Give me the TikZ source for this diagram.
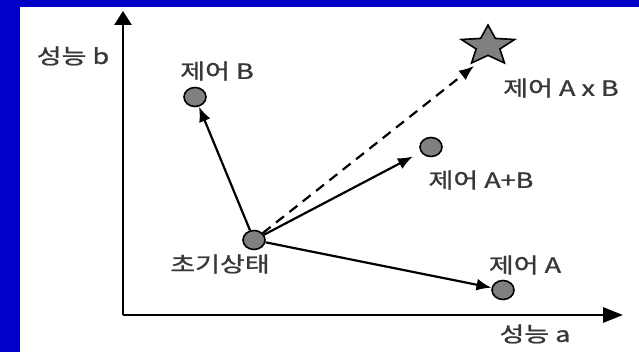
\documentclass[tikz,border=0pt]{standalone}
\usepackage{fontspec}
\usepackage{graphicx}
\usepackage{tikz}
\usetikzlibrary{shapes.geometric, arrows.meta}
\newfontfamily\kr[BoldFont={Noto Sans CJK KR}, BoldFeatures={FakeBold=0.9}]{Noto Sans CJK KR}
\definecolor{slideblue}{RGB}{0,0,200}
\definecolor{dotgray}{RGB}{128,128,128}
\newcommand{\sq}[1]{\scalebox{1}[0.78]{#1}}

\begin{document}
\begin{tikzpicture}[
    x=1pt, y=-1pt,
    lbl/.style={font=\kr\bfseries\fontsize{27}{27}\selectfont, text=black!78, inner sep=0pt},
    dot/.style={ellipse, draw, line width=1.6pt, fill=dotgray, minimum width=22pt, minimum height=19pt, inner sep=0pt},
    axis/.style={line width=2.8pt},
    arrow/.style={-{Latex[length=15pt, width=12pt]}, line width=2.2pt}
]
\useasboundingbox (0,0) rectangle (639,352);

% Hintergrund
\fill[slideblue] (0,0) rectangle (639,352);
\fill[white] (20,7) rectangle (639,352);

% Achsen
\coordinate (orig) at (123,315);
\coordinate (ytop) at (123,11);
\coordinate (xend) at (623,315);
\draw[axis, -{Triangle[length=14pt, width=17pt]}] (orig) -- (ytop);
\draw[axis, -{Triangle[length=20pt, width=15pt]}] (orig) -- (xend);
\node[lbl] (perfb) at (73,56) {\sq{성능 b}};
\node[lbl] (perfa) at (535,334) {\sq{성능 a}};

% Zustaende
\node[dot] (init) at (254,240) {};
\node[dot] (ctlB) at (195,97) {};
\node[dot] (ctlAB) at (431,147) {};
\node[dot] (ctlA) at (503,290) {};

% Stern
\begin{scope}[shift={(488,46)}, yscale=0.75]
  \draw[line width=1.6pt, fill=dotgray, line join=miter]
    (-90:28) \foreach \k in {1,...,9} { -- ({-90+36*\k}:{ifthenelse(isodd(\k),12.5,28)}) } -- cycle;
\end{scope}
\coordinate (ctlAxB) at (474,66);

% Beschriftungen
\node[lbl] (lblB) at (217,71) {\sq{제어 B}};
\node[lbl] (lblAxB) at (561,88) {\sq{제어 A x B}};
\node[lbl] (lblAB) at (481,180) {\sq{제어 A+B}};
\node[lbl] (lblinit) at (220,264) {\sq{초기상태}};
\node[lbl] (lblA) at (525,265) {\sq{제어 A}};

% Pfeile
\draw[arrow] (init) -- (ctlB);
\draw[arrow, shorten >=9pt] (init) -- (ctlAB);
\draw[arrow] (init) -- (ctlA);
\draw[arrow, dash pattern=on 10pt off 7pt] (init) -- (ctlAxB);

\end{tikzpicture}
\end{document}
